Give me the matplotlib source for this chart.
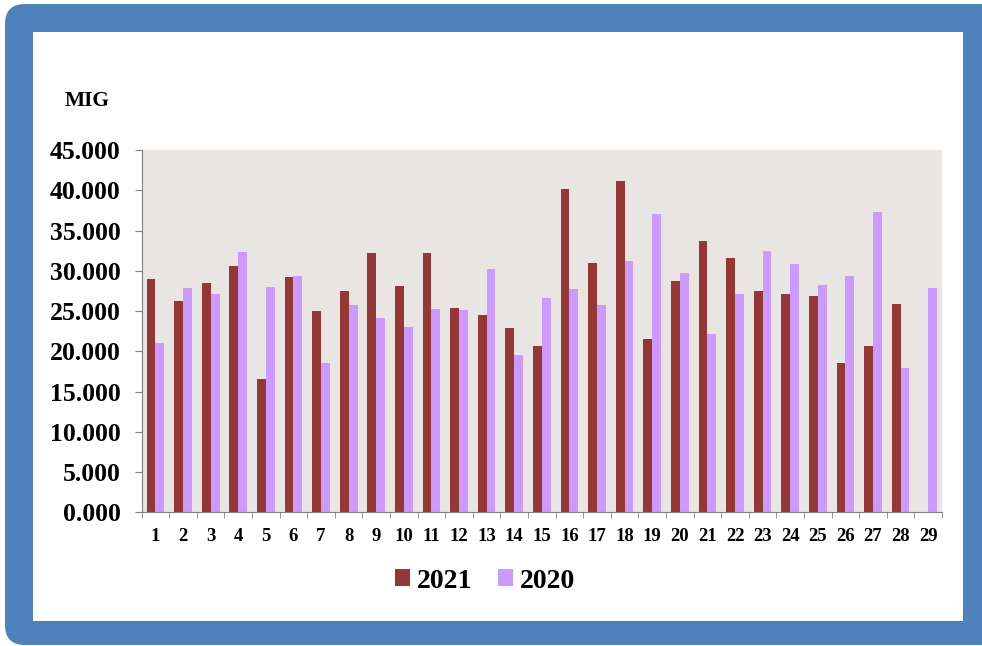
import numpy as np
import matplotlib
matplotlib.use('Agg')
import matplotlib.pyplot as plt
from matplotlib.patches import FancyBboxPatch, Rectangle

# Dữ liệu (nghìn)
days = [str(i) for i in range(1, 30)]
v2021 = [28.94, 26.24, 28.52, 30.55, 16.52, 29.19, 25.00, 27.52, 32.20, 28.07,
         32.24, 25.41, 24.50, 22.89, 20.65, 40.12, 31.00, 41.11, 21.52, 28.69,
         33.70, 31.55, 27.49, 27.15, 26.83, 18.54, 20.69, 25.83, np.nan]
v2020 = [21.03, 27.86, 27.08, 32.33, 27.95, 29.31, 18.50, 25.75, 24.17, 23.05,
         25.25, 25.13, 30.22, 19.50, 26.62, 27.77, 25.79, 31.21, 37.05, 29.72,
         22.15, 27.15, 32.45, 30.80, 28.23, 29.35, 37.30, 17.92, 27.90]
yticks = [0, 5, 10, 15, 20, 25, 30, 35, 40, 45]

c2021 = '#953735'
c2020 = '#CC99FF'
font = 'Liberation Serif'

fig = plt.figure(figsize=(9.82, 6.46), dpi=100)

# Khung viền xanh
bg = fig.add_axes([0, 0, 1, 1])
bg.set_xlim(0, 982)
bg.set_ylim(646, 0)
bg.axis('off')
bg.add_patch(FancyBboxPatch((5, 4), 1010, 641, boxstyle='round,pad=0,rounding_size=20',
                            facecolor='#4F81BD', edgecolor='none'))
bg.add_patch(Rectangle((33, 32), 930, 589, facecolor='white', edgecolor='none'))

ax = fig.add_axes([141.7 / 982, 1 - 512.3 / 646, (942 - 141.7) / 982, (512.3 - 150) / 646])
ax.set_facecolor('#E8E5E2')

x = np.arange(len(days))
w = 0.32
b1 = ax.bar(x - w / 2, v2021, w, color=c2021, label='2021')
b2 = ax.bar(x + w / 2, v2020, w, color=c2020, label='2020')

ax.set_xlim(-0.5, len(days) - 0.5)
ax.set_ylim(0, 45)
ax.set_yticks(yticks)
ax.set_yticklabels([f'{v:.3f}' for v in yticks], fontfamily=font, fontweight='bold', fontsize=18.5)
ax.tick_params(axis='y', length=5, color='#808080', pad=10)

ax.set_xticks(x)
ax.set_xticklabels(days, fontfamily=font, fontweight='bold', fontsize=13.5)
ax.set_xticks(np.arange(len(days) + 1) - 0.5, minor=True)
ax.tick_params(axis='x', which='major', length=0, pad=11)
ax.tick_params(axis='x', which='minor', length=4.5, color='#808080')

for s in ['top', 'right']:
    ax.spines[s].set_visible(False)
for s in ['left', 'bottom']:
    ax.spines[s].set_color('#808080')

fig.text(65 / 982, 1 - 101 / 646, 'MIG', fontfamily=font, fontweight='bold', fontsize=15.5,
         va='center', ha='left')

fig.legend(handles=[b1, b2], labels=['2021', '2020'], loc='center', ncol=2,
           bbox_to_anchor=(0.494, 1 - 581 / 646), frameon=False,
           prop={'family': font, 'weight': 'bold', 'size': 20},
           handlelength=0.55, handleheight=0.55, handletextpad=0.25, columnspacing=0.9)

fig.savefig('out.png', dpi=100)
